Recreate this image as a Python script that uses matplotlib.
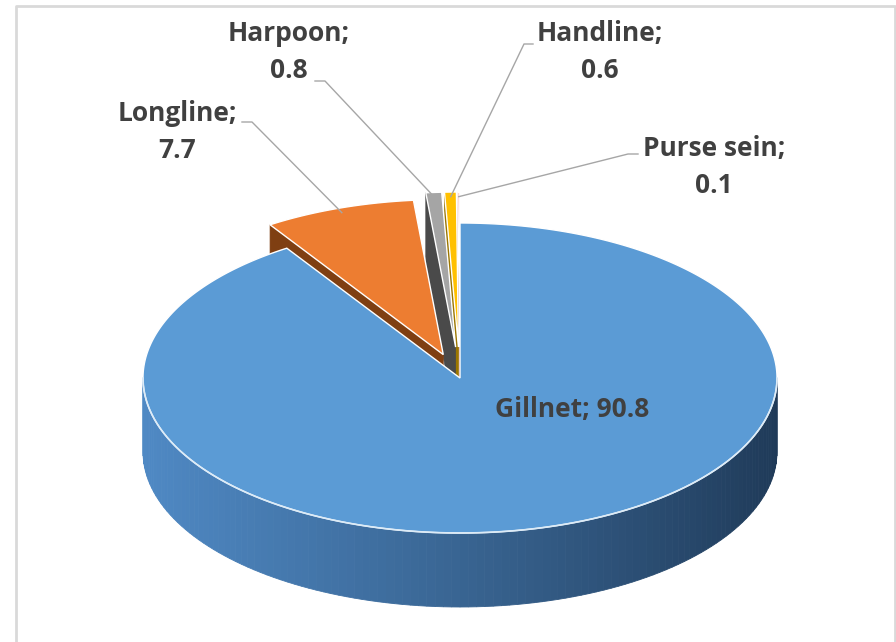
import numpy as np
import matplotlib
matplotlib.use("Agg")
import matplotlib.pyplot as plt
from matplotlib.patches import Polygon
from matplotlib.colors import to_rgb

# ---- data ----
categories = ["Gillnet", "Longline", "Harpoon", "Handline", "Purse sein"]
values = [90.8, 7.7, 0.8, 0.6, 0.1]
colors = ["#5B9BD5", "#ED7D31", "#A5A5A5", "#FFC000", "#F4A6A6"]
side_colors = ["#3A6A9B", "#7F3F12", "#4A4A4A", "#9C7600", "#B06060"]

# ---- style / layout ----
explode = [0.0, 0.16, 0.2, 0.2, 0.2]
CX, CY = 460.0, 378.0      # pie centre (pixel-like coordinates)
A, B = 317.0, 155.0        # ellipse semi-axes
DEPTH = 74.0
TEXT = "#404040"
LEADER = "#A6A6A6"

label_pos = {
    "Longline": (177, 132),
    "Harpoon": (289, 52),
    "Handline": (600, 52),
    "Purse sein": (714, 167),
    "Gillnet": (572, 410),
}
leader_anchor = {
    "Longline": [(242, 122), (252, 122)],
    "Harpoon": [(315, 81), (325, 81)],
    "Handline": [(533, 44), (524, 44)],
    "Purse sein": [(638, 154), (628, 154)],
}

fig = plt.figure(figsize=(8.96, 6.42), dpi=100)
ax = fig.add_axes([0, 0, 1, 1])
ax.set_xlim(0, 896)
ax.set_ylim(642, 0)
ax.axis("off")

font = {"family": ["Open Sans", "DejaVu Sans"], "weight": "bold", "size": 19, "color": TEXT}

total = float(sum(values))
bounds = np.concatenate([[0.0], np.cumsum(values) / total * 360.0])


def pt(theta_deg, r, c, dz=0.0):
    t = np.radians(theta_deg)
    return (c[0] + A * r * np.sin(t), c[1] - B * r * np.cos(t) + dz)


def darken(col, f):
    r, g, b = to_rgb(col)
    return (r * f, g * f, b * f)


def lerp(c1, c2, t):
    a = np.array(to_rgb(c1)); b = np.array(to_rgb(c2))
    return tuple(a + (b - a) * t)


slices = []
for i in range(len(values)):
    t0, t1 = bounds[i], bounds[i + 1]
    mid = (t0 + t1) / 2
    m = np.radians(mid)
    e = explode[i]
    c = (CX + A * e * np.sin(m), CY - B * e * np.cos(m))
    slices.append((i, t0, t1, mid, c))

# draw back to front: small slices first, gillnet last
order = [4, 3, 2, 1, 0]
for i in order:
    _, t0, t1, mid, c = slices[i]
    # radial faces
    for phi, is_start in ((t0, True), (t1, False)):
        s = np.sin(np.radians(phi))
        visible = (s < -1e-6) if is_start else (s > 1e-6)
        if visible:
            p_out = pt(phi, 1, c)
            poly = [c, p_out, (p_out[0], p_out[1] + DEPTH), (c[0], c[1] + DEPTH)]
            ax.add_patch(Polygon(poly, closed=True, facecolor=side_colors[i],
                                 edgecolor=side_colors[i], lw=0.5, zorder=2))
    # outer wall (front half 90..270)
    w0, w1 = max(t0, 90.0), min(t1, 270.0)
    if w1 > w0:
        n = 120
        ths = np.linspace(w0, w1, n + 1)
        light = "#4F89C4" if i == 0 else side_colors[i]
        dark = "#1F3A58" if i == 0 else darken(side_colors[i], 0.6)
        for k in range(n):
            a0, a1 = ths[k], ths[k + 1]
            tm = (a0 + a1) / 2
            lum = 0.5 + 0.5 * (-np.sin(np.radians(tm)))  # 1 at left, 0 at right
            col = lerp(dark, light, lum ** 0.9)
            poly = [pt(a0, 1, c), pt(a1, 1, c), pt(a1, 1, c, DEPTH), pt(a0, 1, c, DEPTH)]
            ax.add_patch(Polygon(poly, closed=True, facecolor=col, edgecolor=col,
                                 lw=0.6, zorder=2))
    # top face
    ths = np.linspace(t0, t1, max(int((t1 - t0) * 2), 4))
    poly = [c] + [pt(t, 1, c) for t in ths]
    ax.add_patch(Polygon(poly, closed=True, facecolor=colors[i], edgecolor="white",
                         lw=1.0, zorder=3))
    if w1 > w0:
        arc = np.linspace(w0, w1, 200)
        xy = np.array([pt(t, 1, c) for t in arc])
        ax.plot(xy[:, 0], xy[:, 1], color="#DCEBF7", lw=1.2, zorder=4)

# labels and leaders
for i, cat in enumerate(categories):
    _, t0, t1, mid, c = slices[i]
    x, y = label_pos[cat]
    if cat == "Gillnet":
        ax.text(x, y, f"{cat}; {values[i]}", ha="center", va="center", zorder=6, **font)
        continue
    ax.text(x, y, f"{cat};\n{values[i]}", ha="center", va="center",
            linespacing=1.5, zorder=6, **font)
    target = pt(mid, 0.97, c)
    pts = leader_anchor[cat] + [target]
    xs = [p[0] for p in pts]; ys = [p[1] for p in pts]
    ax.plot(xs, ys, color=LEADER, lw=1.0, zorder=5)

# chart border
ax.plot([15.5, 15.5, 894.5, 894.5], [642, 5.5, 5.5, 642], color="#D9D9D9", lw=2, zorder=1)

fig.savefig("out.png", dpi=100)
